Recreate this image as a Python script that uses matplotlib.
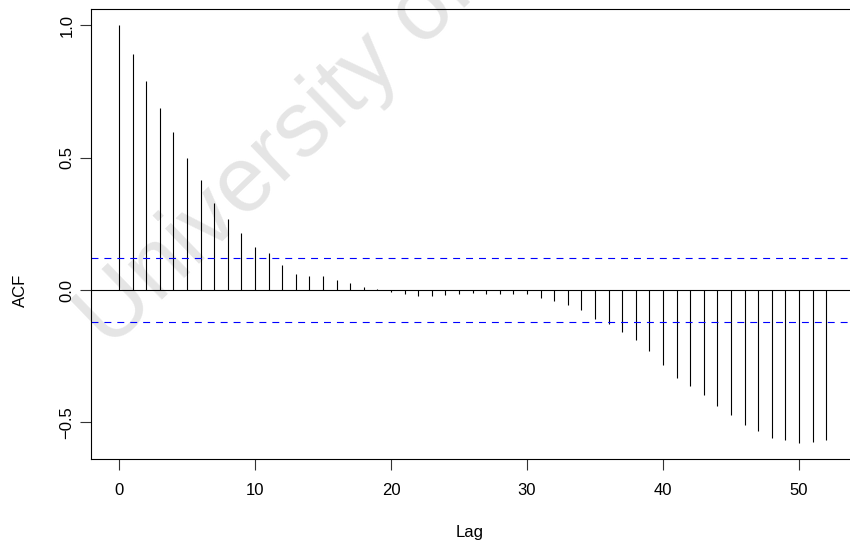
import numpy as np
import matplotlib
matplotlib.use("Agg")
import matplotlib.pyplot as plt

plt.rcParams['font.family'] = ['Liberation Sans', 'DejaVu Sans']
plt.rcParams['lines.scale_dashes'] = False

# значения ACF по лагам
lags = np.arange(53)
acf = [1.0, 0.893, 0.790, 0.686, 0.597, 0.498, 0.414, 0.330, 0.270, 0.214,
       0.164, 0.138, 0.093, 0.062, 0.054, 0.054, 0.038, 0.028, 0.011, 0.003,
       -0.009, -0.016, -0.024, -0.023, -0.019, -0.016, -0.013, -0.014, -0.016, -0.014,
       -0.016, -0.030, -0.040, -0.058, -0.077, -0.109, -0.130, -0.159, -0.188, -0.232,
       -0.284, -0.333, -0.363, -0.396, -0.438, -0.472, -0.509, -0.533, -0.560, -0.567,
       -0.576, -0.574, -0.567]
ci = 0.1215
xticks = [0, 10, 20, 30, 40, 50]
yticks = [-0.5, 0.0, 0.5, 1.0]

fig = plt.figure(figsize=(8.5, 5.46), dpi=100)
ax = fig.add_axes([90.7 / 850, 87 / 546, (854.5 - 90.7) / 850, 450.5 / 546])
ax.set_facecolor('none')

# водяной знак
fig.text(110 / 850, 1 - 350 / 546, "University of", fontsize=67, color='#e5e5e5',
         rotation=44, rotation_mode='anchor', ha='left', va='baseline', zorder=-1)

ax.vlines(lags, 0, acf, color='black', lw=0.8)
ax.axhline(0, color='black', lw=0.8)
ax.axhline(ci, color='blue', lw=0.8, dashes=(5, 4.3))
ax.axhline(-ci, color='blue', lw=0.8, dashes=(5, 4.3))

ax.set_xlim(-2.08, 54.08)
ax.set_ylim(-0.638, 1.063)
ax.set_xticks(xticks)
ax.set_yticks(yticks)
ax.set_yticklabels(['\u22120.5', '0.0', '0.5', '1.0'])

for s in ax.spines.values():
    s.set_linewidth(0.8)
    s.set_color('black')

ax.tick_params(axis='x', length=7.6, width=0.8, pad=10, labelsize=12, colors='#333333', labelcolor='black')
ax.tick_params(axis='y', length=7.6, width=0.8, pad=4, labelsize=12, colors='#333333', labelcolor='black',
               labelrotation=90)
plt.setp(ax.get_yticklabels(), va='center')

fig.text(470 / 850, 1 - 533 / 546, "Lag", fontsize=12, ha='center', va='center')
fig.text(20 / 850, 1 - 290 / 546, "ACF", fontsize=12, ha='center', va='center', rotation=90)

fig.savefig("out.png", dpi=100)
